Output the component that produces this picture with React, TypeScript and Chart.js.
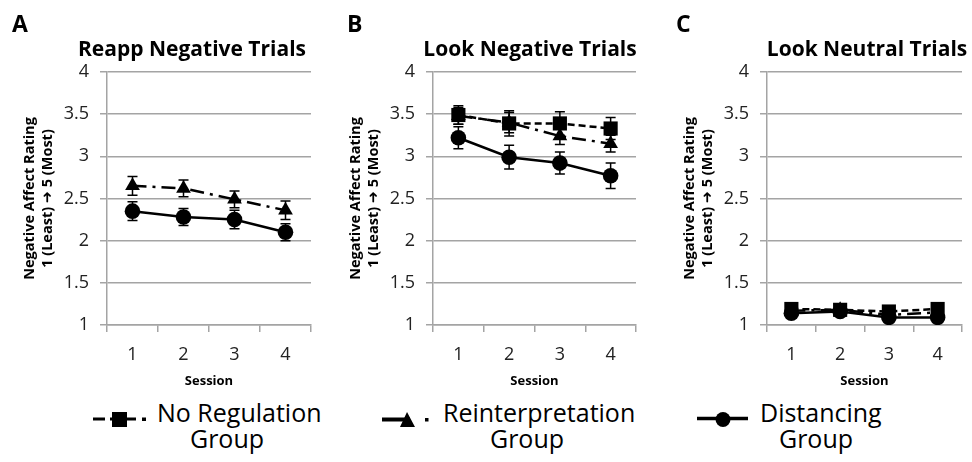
import React, { useEffect, useRef } from 'react';
import { Chart, registerables } from 'chart.js';

Chart.register(...registerables);

// ---------- data ----------
const sessions = ['1', '2', '3', '4'];
const yMin = 1;
const yMax = 4;
const yStep = 0.5;

// Panel A – Reapp Negative Trials
const reappReint = [2.65, 2.62, 2.49, 2.36];
const reappReintErr = [0.11, 0.1, 0.1, 0.11];
const reappDist = [2.35, 2.28, 2.25, 2.1];
const reappDistErr = [0.11, 0.1, 0.11, 0.1];

// Panel B – Look Negative Trials
const lookNegNoReg = [3.49, 3.39, 3.39, 3.33];
const lookNegNoRegErr = [0.11, 0.15, 0.14, 0.13];
const lookNegReint = [3.48, 3.4, 3.24, 3.15];
const lookNegReintErr = [0.1, 0.12, 0.1, 0.1];
const lookNegDist = [3.22, 2.99, 2.92, 2.77];
const lookNegDistErr = [0.13, 0.14, 0.13, 0.15];

// Panel C – Look Neutral Trials
const lookNeuNoReg = [1.19, 1.18, 1.16, 1.19];
const lookNeuNoRegErr = [0.05, 0.05, 0.05, 0.05];
const lookNeuReint = [1.17, 1.18, 1.12, 1.15];
const lookNeuReintErr = [0.05, 0.05, 0.04, 0.05];
const lookNeuDist = [1.14, 1.16, 1.09, 1.09];
const lookNeuDistErr = [0.04, 0.04, 0.04, 0.04];

const panelTitles = ['Reapp Negative Trials', 'Look Negative Trials', 'Look Neutral Trials'];
const panelLetters = ['A', 'B', 'C'];
const groupNames = ['No Regulation', 'Reinterpretation', 'Distancing'];
const yTitle = ['Negative Affect Rating', '1 (Least) \u279C 5 (Most)'];
const xTitle = 'Session';

// ---------- styles ----------
const FONT = "'Open Sans', 'DejaVu Sans', sans-serif";
const GRID = '#a4a4a4';

const styleNoReg = { pointStyle: 'rect', pointRadius: 10, borderDash: [7, 4] };
const styleReint = { pointStyle: 'triangle', pointRadius: 8.5, borderDash: [14, 6, 3, 6] };
const styleDist = { pointStyle: 'circle', pointRadius: 7.8, borderDash: [] as number[] };

function makeDs(label: string, data: number[], errors: number[], st: any) {
  return {
    label,
    data,
    errors,
    borderColor: '#000',
    backgroundColor: '#000',
    pointBackgroundColor: '#000',
    pointBorderColor: '#000',
    borderWidth: 2.5,
    pointBorderWidth: 0,
    tension: 0,
    ...st,
  };
}

const errorBarPlugin = {
  id: 'errorBars',
  beforeDatasetsDraw(chart: any) {
    const ctx = chart.ctx;
    const ys = chart.scales.y;
    chart.data.datasets.forEach((ds: any, i: number) => {
      const meta = chart.getDatasetMeta(i);
      if (!ds.errors) return;
      ctx.save();
      ctx.strokeStyle = '#000';
      ctx.lineWidth = 1.5;
      meta.data.forEach((pt: any, j: number) => {
        const v = ds.data[j];
        const e = ds.errors[j];
        const top = ys.getPixelForValue(v + e);
        const bot = ys.getPixelForValue(v - e);
        ctx.beginPath();
        ctx.moveTo(pt.x, top);
        ctx.lineTo(pt.x, bot);
        ctx.moveTo(pt.x - 5, top);
        ctx.lineTo(pt.x + 5, top);
        ctx.moveTo(pt.x - 5, bot);
        ctx.lineTo(pt.x + 5, bot);
        ctx.stroke();
      });
      ctx.restore();
    });
  },
};

const CANVAS_H = 395;
const PLOT_TOP = 72;
const PLOT_BOTTOM = 325;
const Y_AXIS_W = 107;

function Panel(props: { left: number; width: number; padRight: number; datasets: any[] }) {
  const ref = useRef<HTMLCanvasElement>(null);
  useEffect(() => {
    if (!ref.current) return;
    const chart = new Chart(ref.current, {
      type: 'line',
      data: { labels: sessions, datasets: props.datasets },
      options: {
        responsive: false,
        animation: false,
        devicePixelRatio: 1,
        layout: { padding: { top: PLOT_TOP, right: props.padRight, bottom: 0, left: 0 } },
        plugins: { legend: { display: false }, tooltip: { enabled: false }, title: { display: false } },
        scales: {
          x: {
            type: 'category',
            offset: true,
            grid: { drawOnChartArea: false, offset: true, tickLength: 7, color: GRID, lineWidth: 1.5 },
            border: { color: GRID, width: 1.5 },
            ticks: { color: '#222', font: { family: FONT, size: 18 }, padding: 12 },
            title: {
              display: true,
              text: xTitle,
              color: '#000',
              font: { family: FONT, size: 13, weight: 'bold' },
              padding: { top: 0, bottom: 6 },
            },
            afterFit: (s: any) => {
              s.height = CANVAS_H - PLOT_BOTTOM;
            },
          },
          y: {
            min: yMin,
            max: yMax,
            ticks: {
              stepSize: yStep,
              color: '#222',
              font: { family: FONT, size: 18 },
              padding: 11,
              callback: (v: any) => String(Number(v)),
            },
            grid: { color: GRID, lineWidth: 1.5, tickLength: 7 },
            border: { color: GRID, width: 1.5 },
            title: {
              display: true,
              text: yTitle,
              color: '#000',
              font: { family: FONT, size: 14.5, weight: 'bold', lineHeight: 1.25 },
              padding: { top: 21, bottom: 0 },
            },
            afterFit: (s: any) => {
              s.width = Y_AXIS_W;
            },
          },
        },
      } as any,
      plugins: [errorBarPlugin],
    });
    return () => chart.destroy();
  }, []);
  return (
    <canvas
      ref={ref}
      width={props.width}
      height={CANVAS_H}
      style={{ position: 'absolute', left: props.left, top: 0, width: props.width, height: CANVAS_H }}
    />
  );
}

function LegendIcon(props: { kind: number }) {
  if (props.kind === 0) {
    return (
      <svg width={60} height={24} style={{ position: 'absolute', left: 91, top: 407 }}>
        <line x1={2} y1={12} x2={14} y2={12} stroke="#000" strokeWidth={3} />
        <line x1={19} y1={12} x2={45} y2={12} stroke="#000" strokeWidth={3} />
        <rect x={21} y={5} width={15} height={15} fill="#000" />
        <rect x={51} y={10.5} width={4} height={3.5} fill="#000" />
      </svg>
    );
  }
  if (props.kind === 1) {
    return (
      <svg width={60} height={24} style={{ position: 'absolute', left: 380, top: 407 }}>
        <line x1={2} y1={12.5} x2={30} y2={12.5} stroke="#000" strokeWidth={4} />
        <polygon points="27,5 35,20 20,20" fill="#000" />
        <rect x={45} y={11} width={3.5} height={3.5} fill="#000" />
      </svg>
    );
  }
  return (
    <svg width={60} height={24} style={{ position: 'absolute', left: 695, top: 407 }}>
      <line x1={2} y1={11.5} x2={53} y2={11.5} stroke="#000" strokeWidth={3.5} />
      <circle cx={28} cy={12.5} r={7.5} fill="#000" />
    </svg>
  );
}

export default function App() {
  const dsA = [
    makeDs(groupNames[1], reappReint, reappReintErr, styleReint),
    makeDs(groupNames[2], reappDist, reappDistErr, styleDist),
  ];
  const dsB = [
    makeDs(groupNames[0], lookNegNoReg, lookNegNoRegErr, styleNoReg),
    makeDs(groupNames[1], lookNegReint, lookNegReintErr, styleReint),
    makeDs(groupNames[2], lookNegDist, lookNegDistErr, styleDist),
  ];
  const dsC = [
    makeDs(groupNames[0], lookNeuNoReg, lookNeuNoRegErr, styleNoReg),
    makeDs(groupNames[1], lookNeuReint, lookNeuReintErr, styleReint),
    makeDs(groupNames[2], lookNeuDist, lookNeuDistErr, styleDist),
  ];

  const letterLeft = [12, 347, 676];
  const titleCenter = [192, 530, 867];
  const legendLeft = [157, 443, 760];
  const groupCenter = [227, 527, 816];

  return (
    <div
      style={{
        position: 'absolute',
        left: 0,
        top: 0,
        width: 972,
        height: 462,
        background: '#fff',
        overflow: 'hidden',
        fontFamily: FONT,
        color: '#000',
      }}
    >
      <Panel left={0} width={320} padRight={9} datasets={dsA} />
      <Panel left={326} width={320} padRight={8} datasets={dsB} />
      <Panel left={660} width={312} padRight={1} datasets={dsC} />

      {panelLetters.map((l, i) => (
        <div
          key={l}
          style={{ position: 'absolute', left: letterLeft[i], top: 12, fontSize: 23, lineHeight: '23px', fontWeight: 700 }}
        >
          {l}
        </div>
      ))}
      {panelTitles.map((t, i) => (
        <div
          key={t}
          style={{
            position: 'absolute',
            left: titleCenter[i] - 150,
            width: 300,
            top: 38,
            textAlign: 'center',
            fontSize: 21,
            lineHeight: '21px',
            fontWeight: 700,
            whiteSpace: 'nowrap',
          }}
        >
          {t}
        </div>
      ))}

      {[0, 1, 2].map((k) => (
        <LegendIcon key={'ic' + k} kind={k} />
      ))}
      {groupNames.map((g, i) => (
        <div
          key={'l1' + g}
          style={{ position: 'absolute', left: legendLeft[i], top: 400, fontSize: 25, lineHeight: '25px', whiteSpace: 'nowrap' }}
        >
          {g}
        </div>
      ))}
      {groupNames.map((g, i) => (
        <div
          key={'l2' + g}
          style={{
            position: 'absolute',
            left: groupCenter[i] - 60,
            width: 120,
            textAlign: 'center',
            top: 426,
            fontSize: 25,
            lineHeight: '25px',
          }}
        >
          Group
        </div>
      ))}
    </div>
  );
}
